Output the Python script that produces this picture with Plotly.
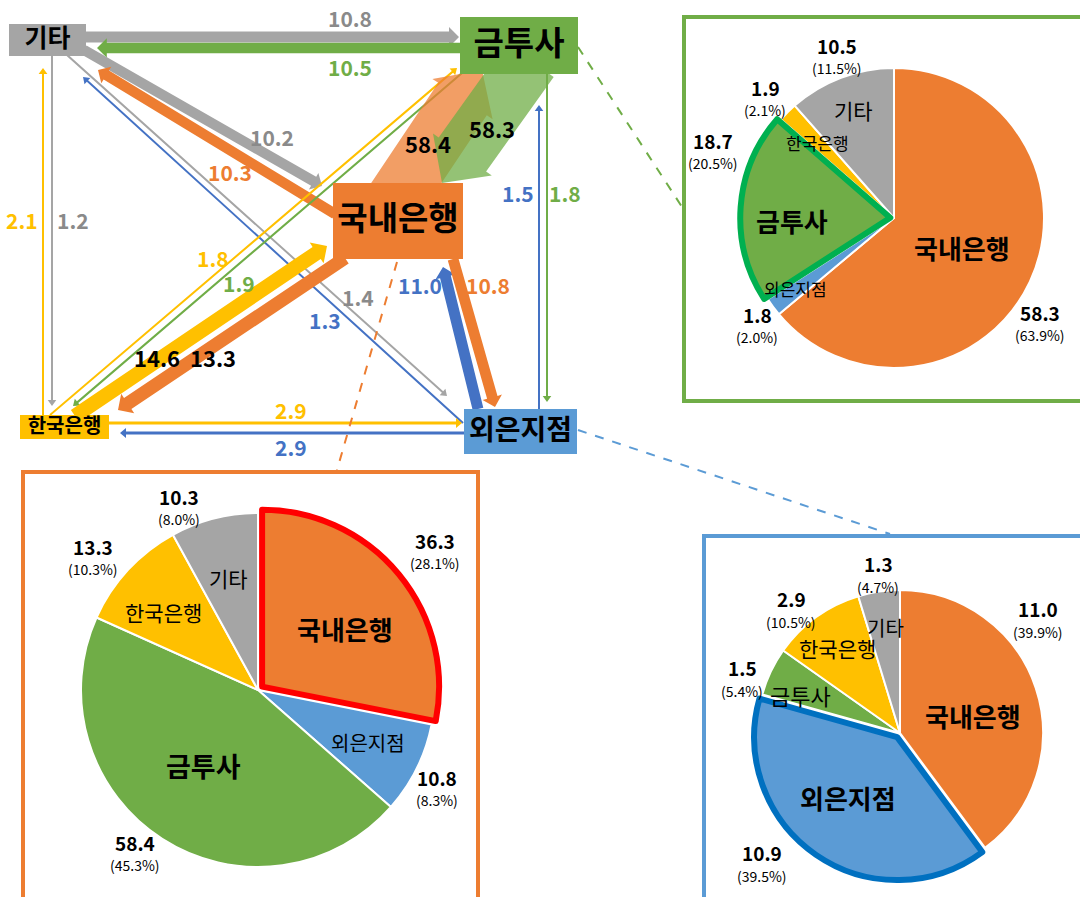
import math
import plotly.graph_objects as go

W, H = 1080, 897
FONT = "Noto Sans CJK KR"

# ---------------- data ----------------
CATEGORIES = ['국내은행', '외은지점', '금투사', '한국은행', '기타']
CAT_COLORS = ['#ED7D31', '#5B9BD5', '#70AD47', '#FFC000', '#A5A5A5']

PIE_GEUMTU_VALUES = [58.3, 1.8, 18.7, 1.9, 10.5]
PIE_GEUMTU_PCT = ['63.9', '2.0', '20.5', '2.1', '11.5']
PIE_DOMESTIC_VALUES = [36.3, 10.8, 58.4, 13.3, 10.3]
PIE_DOMESTIC_PCT = ['28.1', '8.3', '45.3', '10.3', '8.0']
PIE_FOREIGN_VALUES = [11.0, 10.9, 1.5, 2.9, 1.3]
PIE_FOREIGN_PCT = ['39.9', '39.5', '5.4', '10.5', '4.7']

NODES = ['기타', '금투사', '국내은행', '한국은행', '외은지점']
FLOW_SOURCE = ['기타', '금투사', '기타', '국내은행', '기타', '외은지점', '한국은행', '기타',
               '한국은행', '금투사', '한국은행', '국내은행', '한국은행', '외은지점',
               '외은지점', '국내은행', '외은지점', '금투사', '국내은행', '금투사']
FLOW_TARGET = ['금투사', '기타', '국내은행', '기타', '외은지점', '기타', '기타', '한국은행',
               '금투사', '한국은행', '국내은행', '한국은행', '외은지점', '한국은행',
               '국내은행', '외은지점', '금투사', '외은지점', '금투사', '국내은행']
FLOW_VALUE = [10.8, 10.5, 10.2, 10.3, 1.4, 1.3, 2.1, 1.2,
              1.8, 1.9, 14.6, 13.3, 2.9, 2.9,
              11.0, 10.8, 1.5, 1.8, 58.4, 58.3]

# ---------------- layout / style ----------------
NODE_BOX = {  # x0, y0, x1, y1 (pixels)
    '기타': (9, 24, 86, 56),
    '금투사': (460, 17, 578, 74),
    '국내은행': (333, 183, 463, 259),
    '한국은행': (20, 415, 109, 439),
    '외은지점': (464, 409, 577, 454),
}
NODE_FILL = {'기타': '#A5A5A5', '금투사': '#70AD47', '국내은행': '#ED7D31',
             '한국은행': '#FFC000', '외은지점': '#5B9BD5'}
NODE_FONT = {'기타': 25, '금투사': 33, '국내은행': 33, '한국은행': 20, '외은지점': 28}
ARROW_COLOR = {'기타': '#A5A5A5', '금투사': '#70AD47', '국내은행': '#ED7D31',
               '한국은행': '#FFC000', '외은지점': '#4472C4'}
LABEL_COLOR = {'기타': '#8A8A8A', '금투사': '#70AD47', '국내은행': '#ED7D31',
               '한국은행': '#FFC000', '외은지점': '#4472C4'}

# per-flow geometry: tail, tip, label position, black label?
FLOW_GEOM = [
    ((86, 37), (459, 37), (350, 18), False),
    ((460, 48), (97, 48), (350, 67), False),
    ((84, 50), (322, 186), (272, 137), False),
    ((335, 214), (98, 70), (230, 172), False),
    ((67, 55), (447, 396), (358, 297), False),
    ((463, 423), (83, 77), (325, 320), False),
    ((43, 415), (43, 68), (22, 220), False),
    ((52, 56), (52, 406), (73, 220), False),
    ((50, 415), (457, 68), (213, 258), False),
    ((462, 73), (73, 406), (239, 283), False),
    ((75, 416), (327, 246), (157, 357), True),
    ((345, 258), (118, 410), (213, 357), True),
    ((109, 423), (462, 423), (291, 410), False),
    ((464, 433), (120, 433), (291, 447), False),
    ((478, 409), (443, 267), (420, 285), False),
    ((453, 259), (495, 407), (488, 285), False),
    ((539, 409), (539, 105), (518, 193), False),
    ((547, 74), (547, 402), (565, 193), False),
    ((395, 200), (482, 70), (428, 143), True),
    ((530, 60), (442, 183), (492, 128), True),
]


def arrow_path(p0, p1, w, hw, hl):
    x0, y0 = p0
    x1, y1 = p1
    dx, dy = x1 - x0, y1 - y0
    L = math.hypot(dx, dy)
    ux, uy = dx / L, dy / L
    nx, ny = -uy, ux
    bx, by = x1 - ux * hl, y1 - uy * hl
    pts = [(x0 + nx * w / 2, y0 + ny * w / 2), (bx + nx * w / 2, by + ny * w / 2),
           (bx + nx * hw / 2, by + ny * hw / 2), (x1, y1),
           (bx - nx * hw / 2, by - ny * hw / 2), (bx - nx * w / 2, by - ny * w / 2),
           (x0 - nx * w / 2, y0 - ny * w / 2)]
    return 'M ' + ' L '.join(f'{x:.1f},{y:.1f}' for x, y in pts) + ' Z'


shapes = []
annotations = []

# arrows
for src, dst, val, geom in zip(FLOW_SOURCE, FLOW_TARGET, FLOW_VALUE, FLOW_GEOM):
    tail, tip, lab, black = geom
    w = max(2.0, val)
    big = val > 30
    if big:
        hw, hl = w + 14, 35
    else:
        hw = 1.3 * w + 6
        hl = max(6.0, 0.5 * hw)
    shapes.append(dict(type='path', xref='x', yref='y', layer='below',
                       path=arrow_path(tail, tip, w, hw, hl),
                       fillcolor=ARROW_COLOR[src], opacity=0.75 if big else 1.0,
                       line=dict(width=0)))
    annotations.append(dict(x=lab[0], y=lab[1], xref='x', yref='y', showarrow=False,
                            text=f'<b>{val:.1f}</b>',
                            font=dict(family=FONT, size=22 if black else 21,
                                      color='black' if black else LABEL_COLOR[src]),
                            xanchor='center', yanchor='middle'))

# node boxes
for n in NODES:
    x0, y0, x1, y1 = NODE_BOX[n]
    shapes.append(dict(type='rect', xref='x', yref='y', layer='below',
                       x0=x0, y0=y0, x1=x1, y1=y1, fillcolor=NODE_FILL[n],
                       line=dict(width=0)))

# frames
FRAMES = [((684, 17, 1095, 401), '#70AD47'),
          ((23, 472, 478, 910), '#ED7D31'),
          ((704, 536, 1095, 910), '#5B9BD5')]
for (x0, y0, x1, y1), c in FRAMES:
    shapes.append(dict(type='rect', xref='x', yref='y', layer='below',
                       x0=x0, y0=y0, x1=x1, y1=y1, fillcolor='rgba(0,0,0,0)',
                       line=dict(color=c, width=4)))

# dashed connectors
DASHES = [((578, 47), (684, 210), '#70AD47'),
          ((397, 262), (337, 470), '#ED7D31'),
          ((578, 430), (890, 534), '#5B9BD5')]
for (x0, y0), (x1, y1), c in DASHES:
    shapes.append(dict(type='line', xref='x', yref='y', layer='below',
                       x0=x0, y0=y0, x1=x1, y1=y1,
                       line=dict(color=c, width=2, dash='dash')))

fig = go.Figure()

# node labels
fig.add_trace(go.Scatter(
    x=[(NODE_BOX[n][0] + NODE_BOX[n][2]) / 2 for n in NODES],
    y=[(NODE_BOX[n][1] + NODE_BOX[n][3]) / 2 + 1 for n in NODES],
    mode='text', text=[f'<b>{n}</b>' for n in NODES],
    textfont=dict(family=FONT, size=[NODE_FONT[n] for n in NODES], color='black'),
    hoverinfo='skip', showlegend=False, cliponaxis=False))


def pie_domain(cx, cy, r, pull):
    hb = r * (1 + pull)
    return dict(x=[(cx - hb) / W, (cx + hb) / W], y=[1 - (cy + hb) / H, 1 - (cy - hb) / H])


PIES = [
    dict(values=PIE_GEUMTU_VALUES, pct=PIE_GEUMTU_PCT, center=(894, 218), r=150,
         hi=2, hi_color='#00B050', pull=0.025,
         val_pos=[(1040, 312), (757, 314), (713, 140), (765, 87), (837, 45)],
         pct_dy=23,
         cat_pos=[(962, 247), (795, 288), (792, 220), (817, 142), (853, 110)],
         cat_size=[26, 17, 26, 17, 21]),
    dict(values=PIE_DOMESTIC_VALUES, pct=PIE_DOMESTIC_PCT, center=(258, 690), r=177,
         hi=0, hi_color='#FF0000', pull=0.03,
         val_pos=[(435, 540), (437, 777), (135, 842), (93, 546), (179, 496)],
         pct_dy=23,
         cat_pos=[(345, 628), (368, 742), (203, 765), (163, 612), (228, 578)],
         cat_size=[26, 20, 27, 21, 21]),
    dict(values=PIE_FOREIGN_VALUES, pct=PIE_FOREIGN_PCT, center=(900, 733), r=143,
         hi=1, hi_color='#0070C0', pull=0.035,
         val_pos=[(1038, 608), (762, 852), (742, 667), (791, 598), (878, 563)],
         pct_dy=24,
         cat_pos=[(973, 715), (848, 797), (800, 695), (837, 648), (885, 627)],
         cat_size=[26, 26, 22, 21, 20]),
]

for p in PIES:
    pulls = [p['pull'] if i == p['hi'] else 0 for i in range(len(CATEGORIES))]
    dom = pie_domain(p['center'][0], p['center'][1], p['r'], p['pull'])
    fig.add_trace(go.Pie(values=p['values'], labels=CATEGORIES, sort=False,
                         direction='clockwise', rotation=0, pull=pulls,
                         marker=dict(colors=CAT_COLORS, line=dict(color='white', width=2)),
                         textinfo='none', hoverinfo='skip', domain=dom, showlegend=False))
    fig.add_trace(go.Pie(values=p['values'], labels=CATEGORIES, sort=False,
                         direction='clockwise', rotation=0, pull=pulls,
                         marker=dict(colors=['rgba(0,0,0,0)'] * len(CATEGORIES),
                                     line=dict(color=[p['hi_color']] * len(CATEGORIES),
                                               width=[6 if i == p['hi'] else 0
                                                      for i in range(len(CATEGORIES))])),
                         textinfo='none', hoverinfo='skip', domain=dom, showlegend=False))
    for i, cat in enumerate(CATEGORIES):
        vx, vy = p['val_pos'][i]
        annotations.append(dict(x=vx, y=vy, xref='x', yref='y', showarrow=False,
                                text=f"<b>{p['values'][i]:.1f}</b>",
                                font=dict(family=FONT, size=19, color='black'),
                                xanchor='center', yanchor='middle'))
        annotations.append(dict(x=vx, y=vy + p['pct_dy'], xref='x', yref='y', showarrow=False,
                                text=f"({p['pct'][i]}%)",
                                font=dict(family=FONT, size=14, color='black'),
                                xanchor='center', yanchor='middle'))
        cx, cy = p['cat_pos'][i]
        sz = p['cat_size'][i]
        annotations.append(dict(x=cx, y=cy, xref='x', yref='y', showarrow=False,
                                text=f'<b>{cat}</b>' if sz >= 24 else cat,
                                font=dict(family=FONT, size=sz, color='black'),
                                xanchor='center', yanchor='middle'))

fig.update_layout(
    width=W, height=H, margin=dict(l=0, r=0, t=0, b=0, pad=0),
    paper_bgcolor='white', plot_bgcolor='white', showlegend=False,
    xaxis=dict(range=[0, W], visible=False, fixedrange=True),
    yaxis=dict(range=[H, 0], visible=False, fixedrange=True),
    shapes=shapes, annotations=annotations,
)

fig.write_html('out.html')
